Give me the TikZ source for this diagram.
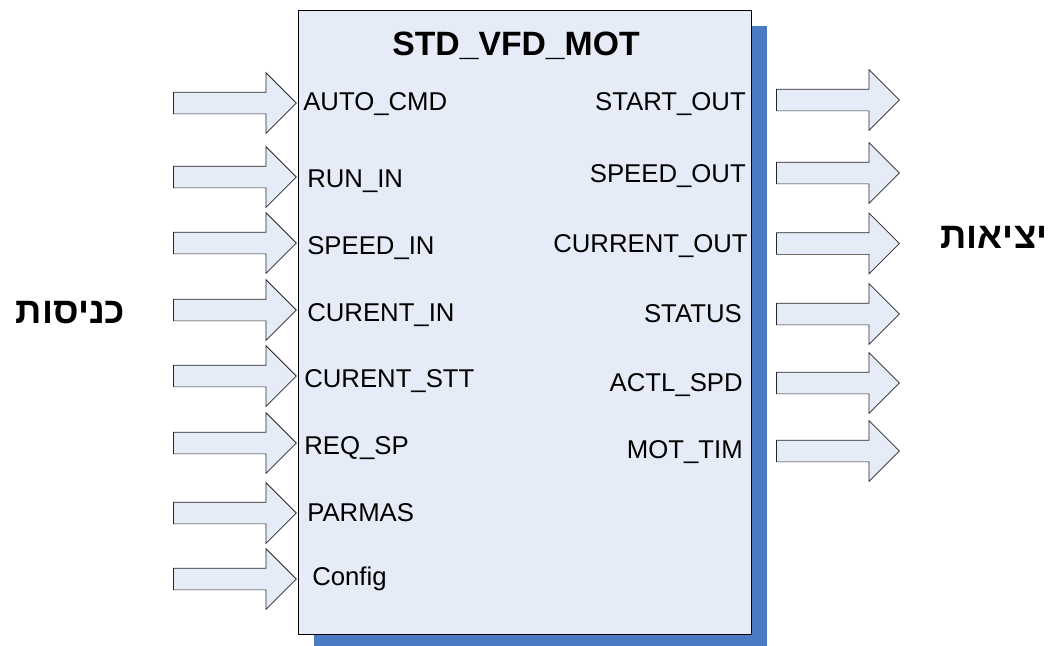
\documentclass[tikz,border=0pt]{standalone}
\usepackage{fontspec}
\setmainfont{Liberation Sans}
\newfontfamily\hebfont[Script=Hebrew]{Liberation Sans}
\TeXXeTstate=1
\usetikzlibrary{shapes.arrows,shadows}
\definecolor{blockfill}{RGB}{230,236,247}
\definecolor{shadowblue}{RGB}{74,123,196}

\begin{document}
\begin{tikzpicture}[
  x=0.75pt, y=-0.75pt,
  fb/.style={rectangle, draw=black, fill=blockfill, line width=0.7pt, inner sep=0pt,
    minimum width=339.75pt, minimum height=468pt,
    drop shadow={shadow xshift=12pt, shadow yshift=-12pt, fill=shadowblue, opacity=1}},
  title/.style={font=\fontsize{25.3}{30}\selectfont\bfseries, inner sep=0pt},
  sig/.style={single arrow, draw=black!85, fill=blockfill, line width=0.55pt,
    inner xsep=0pt, inner ysep=7.875pt,
    minimum width=45pt, minimum height=92pt, single arrow head extend=14.6pt,
    single arrow head indent=0pt},
  pin/.style={font=\fontsize{19.3}{23}\selectfont, inner sep=0pt, text height=13.8pt, text depth=0pt},
  inpin/.style={pin, anchor=west},
  outpin/.style={pin, anchor=east},
  side/.style={font=\hebfont\fontsize{27.5}{32}\selectfont\bfseries, inner sep=0pt}]
  \useasboundingbox (0,0) rectangle (1054,646);
  % function block
  \node[fb] (blk) at (524.5,322) {};
  \node[title] (name) at (516,45.5) {STD\_VFD\_MOT};
  % inputs
  \node[sig] (i1) at (229.5,103) {};
  \node[sig] (i2) at (229.5,177) {};
  \node[sig] (i3) at (229.5,243) {};
  \node[sig] (i4) at (229.5,310) {};
  \node[sig] (i5) at (229.5,376) {};
  \node[sig] (i6) at (229.5,443) {};
  \node[sig] (i7) at (229.5,513) {};
  \node[sig] (i8) at (229.5,579) {};
  \node[inpin] (autocmd) at (303,101) {AUTO\_CMD};
  \node[inpin] (runin) at (307,178) {RUN\_IN};
  \node[inpin] (speedin) at (307,245) {SPEED\_IN};
  \node[inpin] (curin) at (307,312) {CURENT\_IN};
  \node[inpin] (curstt) at (304,378) {CURENT\_STT};
  \node[inpin] (reqsp) at (304,445) {REQ\_SP};
  \node[inpin] (parmas) at (307,512) {PARMAS};
  \node[inpin] (config) at (312,576) {Config};
  % outputs
  \node[sig] (o1) at (832.5,100) {};
  \node[sig] (o2) at (832.5,173) {};
  \node[sig] (o3) at (832.5,243.5) {};
  \node[sig] (o4) at (832.5,314) {};
  \node[sig] (o5) at (832.5,383) {};
  \node[sig] (o6) at (832.5,451) {};
  \node[outpin] (startout) at (746,101) {START\_OUT};
  \node[outpin] (speedout) at (746,173) {SPEED\_OUT};
  \node[outpin] (curout) at (748,243) {CURRENT\_OUT};
  \node[outpin] (status) at (742,313) {STATUS};
  \node[outpin] (actlspd) at (743,382) {ACTL\_SPD};
  \node[outpin] (mottim) at (743,449) {MOT\_TIM};
  % side captions
  \node[side] (inputs) at (70.5,313) {\beginR כניסות\endR};
  \node[side] (outputs) at (994,237) {\beginR יציאות\endR};
\end{tikzpicture}
\end{document}
